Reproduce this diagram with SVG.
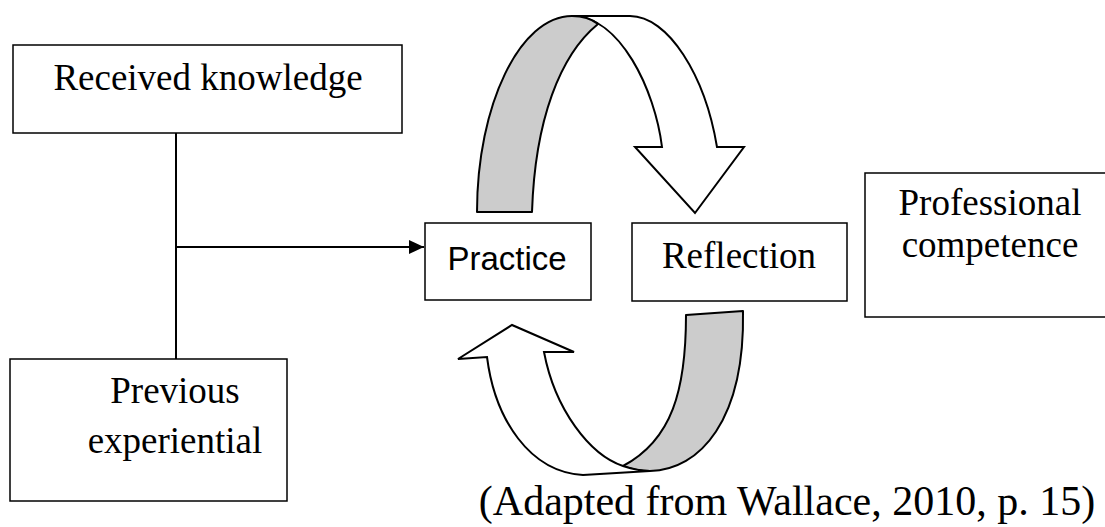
<svg xmlns="http://www.w3.org/2000/svg" width="1105" height="527" viewBox="0 0 1105 527">
<defs>
<style>
.box{fill:#fff;stroke:#000;stroke-width:1.5}
.t{font-family:"Liberation Serif","Times New Roman",serif;font-size:37px;fill:#000;text-anchor:middle}
.c{font-family:"Liberation Serif","Times New Roman",serif;font-size:42px;fill:#000;text-anchor:middle}
.s{font-family:"Liberation Sans",Arial,sans-serif;font-size:33px;fill:#000;text-anchor:middle}
.band{fill:#cccccc;stroke:#000;stroke-width:2;stroke-linejoin:round}
.arw{fill:#fff;stroke:#000;stroke-width:2;stroke-linejoin:miter}
.ln{fill:none;stroke:#000;stroke-width:2}
</style>
<marker id="ah" markerWidth="16" markerHeight="14" refX="15" refY="7" orient="auto" markerUnits="userSpaceOnUse">
<path d="M0,0 L15,7 L0,14 Z" fill="#000"/>
</marker>
</defs>
<rect width="1105" height="527" fill="#fff"/>
<g id="connectors">
<line class="ln" x1="176" y1="133" x2="176" y2="359"/>
<line class="ln" x1="176" y1="247" x2="424" y2="247" marker-end="url(#ah)"/>
</g>
<g id="cycle-top">
<path class="arw" d="M572,16 L630,16 C668,16 705,75 717,147 L744,147 L695,213 L635,147 L662,147 C655,90 620,16 572,16 Z"/>
<path class="band" d="M477,212 C477,105 520,16 572,16 C586,16 593,20 598,24 C560,55 535,120 532,212 Z"/>
</g>
<g id="cycle-bottom">
<path class="band" d="M686,315 L743,311 C745,420 700,470 650,471 C640,471 630,469 623,466 C672,440 686,390 686,315 Z"/>
<path class="arw" d="M458,359 L512,325 L574,352 L544,352 C555,410 590,455 623,466 C632,469 642,471 650,471 L583,475 C530,472 495,420 487,357 Z"/>
</g>
<g id="received">
<rect class="box" x="13" y="45" width="389" height="88"/>
<text class="t" x="208" y="90">Received knowledge</text>
</g>
<g id="previous">
<rect class="box" x="10" y="359" width="277" height="142"/>
<text class="t" x="175" y="403">Previous</text>
<text class="t" x="175" y="453">experiential</text>
</g>
<g id="practice">
<rect class="box" x="425" y="223" width="166" height="77"/>
<text class="s" x="507" y="270">Practice</text>
</g>
<g id="reflection">
<rect class="box" x="632" y="223" width="215" height="78"/>
<text class="t" x="739" y="268">Reflection</text>
</g>
<g id="competence">
<rect class="box" x="865" y="173" width="250" height="144"/>
<text class="t" x="990" y="215">Professional</text>
<text class="t" x="990" y="257">competence</text>
</g>
<text class="c" x="787" y="515">(Adapted from Wallace, 2010, p. 15)</text>
</svg>
